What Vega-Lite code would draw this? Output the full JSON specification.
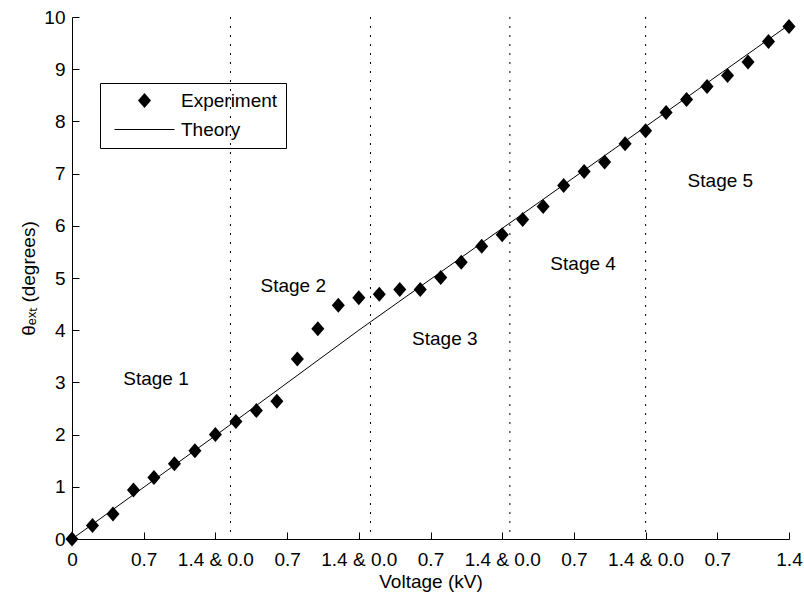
{
  "$schema": "https://vega.github.io/schema/vega-lite/v6.json",
  "width": 717,
  "height": 522,
  "autosize": {"type": "none"},
  "padding": {"left": 72, "top": 17, "right": 15, "bottom": 54},
  "background": "white",
  "config": {
    "font": "Liberation Sans",
    "view": {"stroke": null},
    "axis": {
      "domainColor": "black", "tickColor": "black", "labelColor": "black", "titleColor": "black",
      "labelFont": "Liberation Sans", "titleFont": "Liberation Sans",
      "labelFontSize": 19, "titleFontSize": 19, "titleFontWeight": "normal",
      "grid": false, "tickSize": -7, "domainWidth": 1, "tickWidth": 1,
      "labelFlush": false, "labelOverlap": false
    }
  },
  "datasets": {
    "exp": [
      {"v": 0.0, "theta": 0.0, "series": "Experiment"},
      {"v": 0.2, "theta": 0.26, "series": "Experiment"},
      {"v": 0.4, "theta": 0.48, "series": "Experiment"},
      {"v": 0.6, "theta": 0.94, "series": "Experiment"},
      {"v": 0.8, "theta": 1.18, "series": "Experiment"},
      {"v": 1.0, "theta": 1.44, "series": "Experiment"},
      {"v": 1.2, "theta": 1.69, "series": "Experiment"},
      {"v": 1.4, "theta": 2.0, "series": "Experiment"},
      {"v": 1.6, "theta": 2.25, "series": "Experiment"},
      {"v": 1.8, "theta": 2.46, "series": "Experiment"},
      {"v": 2.0, "theta": 2.64, "series": "Experiment"},
      {"v": 2.2, "theta": 3.45, "series": "Experiment"},
      {"v": 2.4, "theta": 4.03, "series": "Experiment"},
      {"v": 2.6, "theta": 4.48, "series": "Experiment"},
      {"v": 2.8, "theta": 4.62, "series": "Experiment"},
      {"v": 3.0, "theta": 4.69, "series": "Experiment"},
      {"v": 3.2, "theta": 4.78, "series": "Experiment"},
      {"v": 3.4, "theta": 4.78, "series": "Experiment"},
      {"v": 3.6, "theta": 5.01, "series": "Experiment"},
      {"v": 3.8, "theta": 5.30, "series": "Experiment"},
      {"v": 4.0, "theta": 5.61, "series": "Experiment"},
      {"v": 4.2, "theta": 5.83, "series": "Experiment"},
      {"v": 4.4, "theta": 6.12, "series": "Experiment"},
      {"v": 4.6, "theta": 6.37, "series": "Experiment"},
      {"v": 4.8, "theta": 6.77, "series": "Experiment"},
      {"v": 5.0, "theta": 7.04, "series": "Experiment"},
      {"v": 5.2, "theta": 7.22, "series": "Experiment"},
      {"v": 5.4, "theta": 7.57, "series": "Experiment"},
      {"v": 5.6, "theta": 7.82, "series": "Experiment"},
      {"v": 5.8, "theta": 8.17, "series": "Experiment"},
      {"v": 6.0, "theta": 8.42, "series": "Experiment"},
      {"v": 6.2, "theta": 8.67, "series": "Experiment"},
      {"v": 6.4, "theta": 8.88, "series": "Experiment"},
      {"v": 6.6, "theta": 9.14, "series": "Experiment"},
      {"v": 6.8, "theta": 9.53, "series": "Experiment"},
      {"v": 7.0, "theta": 9.82, "series": "Experiment"}
    ],
    "theory": [
      {"v": 0.0, "theta": 0.0},
      {"v": 1.4, "theta": 1.98},
      {"v": 2.8, "theta": 4.0},
      {"v": 4.2, "theta": 5.95},
      {"v": 5.6, "theta": 7.9},
      {"v": 7.0, "theta": 9.85}
    ],
    "bounds": [
      {"v": 1.547}, {"v": 2.914}, {"v": 4.275}, {"v": 5.6}
    ],
    "stages": [
      {"v": 0.82, "theta": 3.07, "label": "Stage 1"},
      {"v": 2.16, "theta": 4.85, "label": "Stage 2"},
      {"v": 3.64, "theta": 3.83, "label": "Stage 3"},
      {"v": 4.99, "theta": 5.26, "label": "Stage 4"},
      {"v": 6.33, "theta": 6.86, "label": "Stage 5"}
    ]
  },
  "layer": [
    {
      "data": {"name": "bounds"},
      "mark": {"type": "rule", "strokeDash": [2, 7], "color": "#000000", "strokeWidth": 1},
      "encoding": {
        "x": {"field": "v", "type": "quantitative", "scale": {"domain": [0, 7], "nice": false, "zero": false}}
      }
    },
    {
      "data": {"name": "theory"},
      "mark": {"type": "line", "color": "black", "strokeWidth": 1},
      "encoding": {
        "x": {"field": "v", "type": "quantitative", "scale": {"domain": [0, 7], "nice": false, "zero": false}},
        "y": {"field": "theta", "type": "quantitative", "scale": {"domain": [0, 10], "nice": false}}
      }
    },
    {
      "data": {"name": "exp"},
      "mark": {"type": "point", "filled": true, "color": "black", "opacity": 1, "size": 225, "clip": false},
      "encoding": {
        "x": {
          "field": "v", "type": "quantitative",
          "scale": {"domain": [0, 7], "nice": false, "zero": false},
          "axis": {
            "title": "Voltage (kV)",
            "values": [0, 0.7, 1.4, 2.1, 2.8, 3.5, 4.2, 4.9, 5.6, 6.3, 7.0],
            "labelExpr": "datum.value == 0 ? '0' : (datum.value > 6.9 ? '1.4' : (round(datum.value / 0.7) % 2 == 1 ? '0.7' : '1.4 & 0.0'))",
            "labelPadding": 18,
            "titlePadding": 3
          }
        },
        "y": {
          "field": "theta", "type": "quantitative",
          "scale": {"domain": [0, 10], "nice": false},
          "axis": {
            "title": "θₑₓₜ (degrees)",
            "values": [0, 1, 2, 3, 4, 5, 6, 7, 8, 9, 10],
            "format": "d",
            "labelPadding": 14,
            "titlePadding": 5
          }
        },
        "shape": {
          "field": "series", "type": "nominal",
          "scale": {"domain": ["Experiment", "Theory"], "range": ["M-0.87,0L0,-1L0.87,0L0,1Z", "M-4,-0.07L4,-0.07L4,0.07L-4,0.07Z"]},
          "legend": {
            "title": null,
            "orient": "none",
            "legendX": 28,
            "legendY": 66,
            "strokeColor": "black",
            "padding": 8,
            "symbolSize": 225,
            "symbolFillColor": "black",
            "symbolStrokeColor": "black",
            "symbolStrokeWidth": 0,
            "symbolOpacity": 1,
            "symbolOffset": 27,
            "labelFontSize": 19,
            "labelFont": "Liberation Sans",
            "labelColor": "black",
            "labelOffset": 27,
            "rowPadding": 9
          }
        }
      }
    },
    {
      "data": {"name": "stages"},
      "mark": {"type": "text", "fontSize": 19, "font": "Liberation Sans", "color": "black", "align": "center", "baseline": "middle"},
      "encoding": {
        "x": {"field": "v", "type": "quantitative", "scale": {"domain": [0, 7], "nice": false, "zero": false}},
        "y": {"field": "theta", "type": "quantitative", "scale": {"domain": [0, 10], "nice": false}},
        "text": {"field": "label"}
      }
    }
  ]
}
